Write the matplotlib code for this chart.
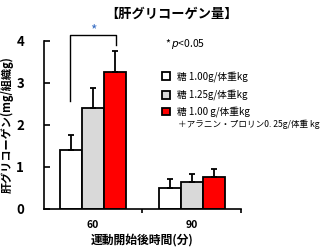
import numpy as np
import matplotlib
matplotlib.use('Agg')
from matplotlib import pyplot as plt
from matplotlib.patches import Rectangle

plt.rcParams['font.family'] = ['Noto Sans CJK JP', 'DejaVu Sans']

times = ['60', '90']
labels = ['糖 1.00g/体重kg', '糖 1.25g/体重kg', '糖 1.00 g/体重kg']
label_extra = '＋アラニン・プロリン0. 25g/体重 kg'
means = [[1.40, 0.50],
         [2.40, 0.62],
         [3.26, 0.74]]
errs = [[0.36, 0.21],
        [0.48, 0.19],
        [0.48, 0.21]]
colors = ['white', '#d9d9d9', '#ff0000']

W, H = 325, 247
fig = plt.figure(figsize=(W/100, H/100), dpi=100)
ax = fig.add_axes([43.5/W, 1-208.5/H, 197.5/W, 168/H])

x = np.arange(len(times)) + 0.5
bw = 0.223
for i in range(3):
    ax.bar(x + (i-1)*bw, means[i], bw, color=colors[i], edgecolor='black', linewidth=1.3,
           yerr=[np.zeros(2), errs[i]], error_kw=dict(ecolor='black', elinewidth=1.3, capsize=2, capthick=1.3),
           zorder=2)

ax.set_xlim(0, 2)
ax.set_ylim(0, 4)
ax.spines['top'].set_visible(False)
ax.spines['right'].set_visible(False)
ax.spines['left'].set_linewidth(1.2)
ax.spines['bottom'].set_linewidth(1.2)
ax.set_yticks([0, 1, 2, 3, 4])
ax.tick_params(axis='y', direction='in', length=4, width=1.2, labelsize=9.5, pad=14)
ax.set_xticks(x)
ax.set_xticklabels(times)
ax.tick_params(axis='x', which='major', length=0, labelsize=7.5, pad=8)
ax.set_xticks([1, 2], minor=True)
ax.tick_params(axis='x', which='minor', direction='out', length=3, width=1.2)
for t in ax.get_xticklabels() + ax.get_yticklabels():
    t.set_fontweight('bold')

ax.set_xlabel('運動開始後時間(分)', fontsize=8.5, fontweight='bold', labelpad=3)
ax.set_ylabel('肝グリコーゲン(mg/組織g)', fontsize=8, fontweight='bold', labelpad=2)

# significance bracket
ax.plot([0.27, 0.27, 0.73, 0.73], [2.57, 4.14, 4.14, 3.9], color='black', lw=1, clip_on=False)
ax.text(0.5, 4.08, '*', color='#3a6fc4', ha='center', va='bottom', fontsize=10, clip_on=False)

fig.text(171/W, 1-14/H, '【肝グリコーゲン量】', ha='center', va='center', fontsize=9.5, fontweight='bold')
fig.text(165/W, 1-44/H, '*', ha='left', va='center', fontsize=7.5)
fig.text(171/W, 1-44/H, '$p$<0.05', ha='left', va='center', fontsize=7.5)

# legend
rows = [76.5, 95, 111.5]
for i in range(3):
    fig.patches.append(Rectangle((162/W, 1-(rows[i]+3.5)/H), 7.5/W, 7.5/H, transform=fig.transFigure,
                                 facecolor=colors[i], edgecolor='black', linewidth=1.3))
    fig.text(177/W, 1-rows[i]/H, labels[i], ha='left', va='center', fontsize=7)
fig.text(178/W, 1-124/H, label_extra, ha='left', va='center', fontsize=6.2)

fig.savefig('out.png', dpi=100)
